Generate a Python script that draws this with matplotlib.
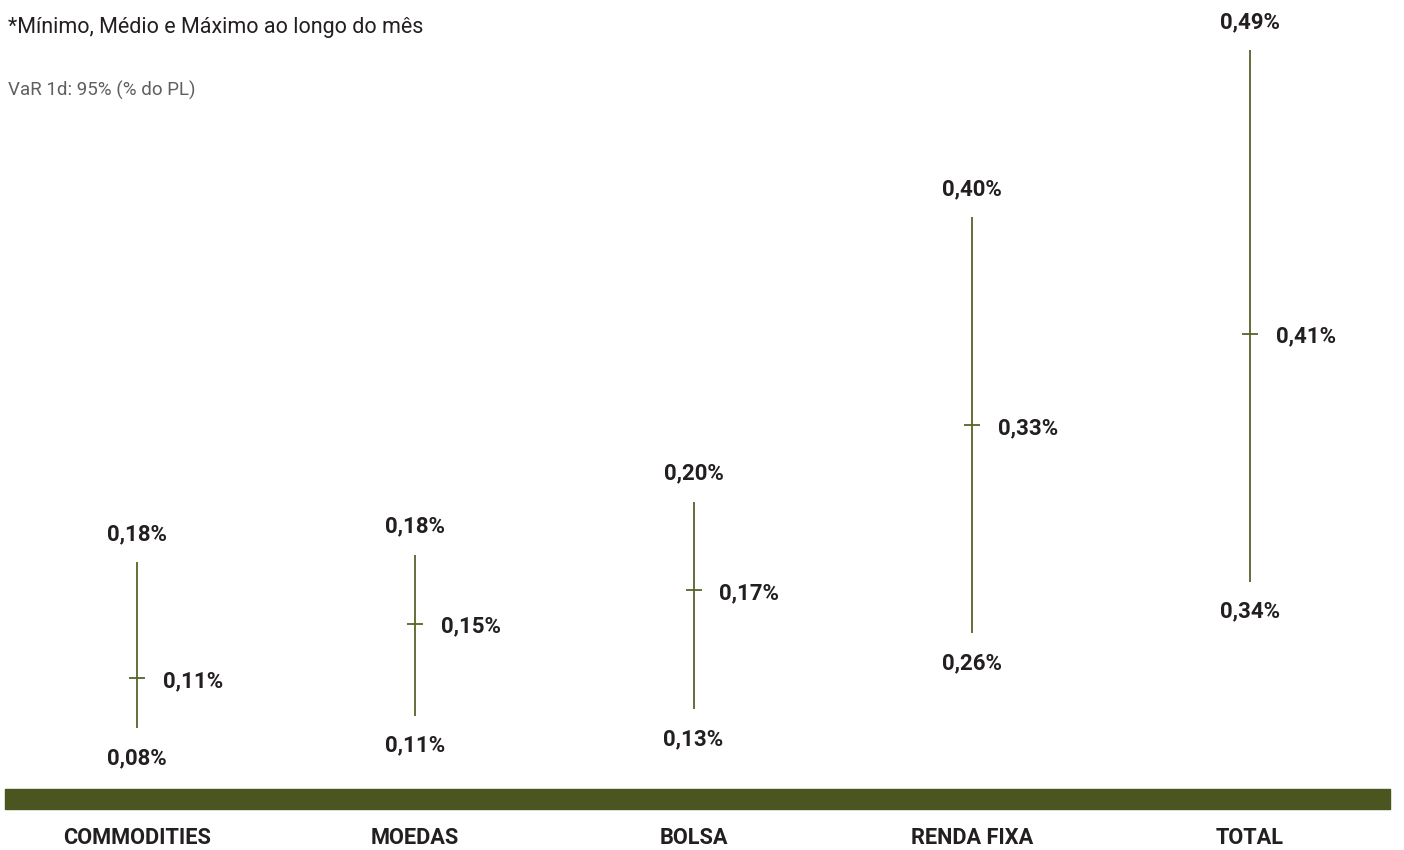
import matplotlib
matplotlib.use("Agg")
import matplotlib.pyplot as plt
from matplotlib.patches import Rectangle

# ---- data ----
categories = ["COMMODITIES", "MOEDAS", "BOLSA", "RENDA FIXA", "TOTAL"]
var_min = [0.08, 0.11, 0.13, 0.26, 0.34]
var_mean = [0.11, 0.15, 0.17, 0.33, 0.41]
var_max = [0.18, 0.18, 0.20, 0.40, 0.49]
title = "*Mínimo, Médio e Máximo ao longo do mês"
subtitle = "VaR 1d: 95% (% do PL)"

# ---- style / layout ----
W, H = 1404, 850
line_color = "#56652a"
band_color = "#4b5520"
text_color = "#231f20"
font = ["Roboto", "DejaVu Sans"]
# each category has its own vertical scale (independent panel ylims)
panel_ylims = [(0.0064, 0.5188), (0.0516, 0.4210), (0.0825, 0.3691),
               (0.1870, 0.4731), (0.2643, 0.5042)]

fig = plt.figure(figsize=(W / 100, H / 100), dpi=100)
ax = fig.add_axes([0, 0, 1, 1])
ax.set_xlim(-137 / 278.25, (W - 137) / 278.25)
ax.set_ylim(0, 1)
ax.axis("off")

def fmt(v):
    return f"{v:.2f}".replace(".", ",") + "%"

for k, cat in enumerate(categories):
    a = ax.twinx()
    a.set_ylim(*panel_ylims[k])
    a.axis("off")
    a.vlines(k, var_min[k], var_max[k], color=line_color, lw=1.3)
    a.plot([k], [var_mean[k]], marker="_", markersize=12, markeredgewidth=1.3,
           color=line_color)
    kw = dict(textcoords="offset pixels", fontsize=16, fontweight="bold",
              color=text_color, family=font)
    a.annotate(fmt(var_max[k]), (k, var_max[k]), xytext=(0, 28),
               ha="center", va="center", **kw)
    a.annotate(fmt(var_min[k]), (k, var_min[k]), xytext=(0, -30),
               ha="center", va="center", **kw)
    a.annotate(fmt(var_mean[k]), (k, var_mean[k]), xytext=(26, -3),
               ha="left", va="center", **kw)
    ax.text(k, 1 - 838 / H, cat, ha="center", va="center", fontsize=15.7,
            fontweight="bold", color=text_color, family=font,
            transform=ax.get_xaxis_transform())

# green band
fig.patches.append(Rectangle((5 / W, 1 - 809 / H), 1385 / W, 20 / H,
                             transform=fig.transFigure, color=band_color,
                             zorder=0))

fig.text(8 / W, 1 - 27 / H, title, ha="left", va="center", fontsize=15.5,
         color=text_color, family=font)
fig.text(8 / W, 1 - 90 / H, subtitle, ha="left", va="center", fontsize=13.5,
         color="#5f5f5f", family=font)

fig.savefig("out.png", dpi=100)
